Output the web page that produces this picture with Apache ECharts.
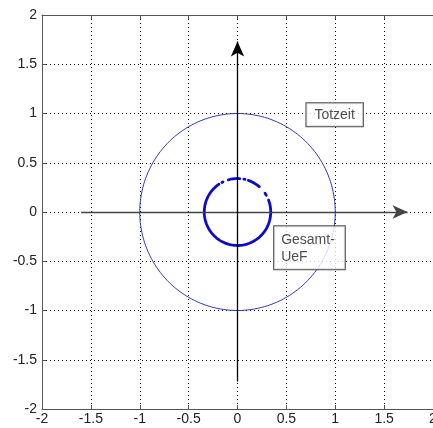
<!DOCTYPE html>
<html>
<head>
<meta charset="utf-8">
<script src="https://cdn.jsdelivr.net/npm/echarts@6/dist/echarts.min.js"></script>
<style>
  html, body { margin: 0; padding: 0; background: #fff; }
  #chart { width: 433px; height: 428px; }
</style>
</head>
<body>
<div id="chart"></div>
<script>
// Axis ticks (both axes share the same range)
const tickValues = [-2, -1.5, -1, -0.5, 0, 0.5, 1, 1.5, 2];
const tickLabels = ['-2', '-1.5', '-1', '-0.5', '0', '0.5', '1', '1.5', '2'];

// Unit circle and the smaller, partly broken circle around the origin
const outerRadius = 1;
const innerRadius = 0.34;
// visible arcs of the inner circle, [start, end] in degrees (counter-clockwise from +x)
const innerArcs = [[153, 382], [30, 34], [49, 71], [77, 80], [86, 107], [116, 119], [124, 150]];

// Coordinate arrows: [x0, y0, x1, y1]
const xArrow = [-1.6, 0, 1.74, 0];
const yArrow = [0, -1.72, 0, 1.73];

// Annotation boxes, anchored at their upper-left corner
const notes = [
  { text: 'Totzeit', x: 0.71, y: 1.1 },
  { text: 'Gesamt-\nUeF', x: 0.38, y: -0.15 }
];

function arcPoints(r, a0, a1) {
  const pts = [];
  const step = 1;
  for (let a = a0; a <= a1 + 1e-9; a += step) {
    const t = a * Math.PI / 180;
    pts.push([r * Math.cos(t), r * Math.sin(t)]);
  }
  return pts;
}

const font = 'Liberation Sans, Arial, sans-serif';
const labelFmt = v => {
  const i = tickValues.findIndex(t => Math.abs(t - v) < 1e-9);
  return i >= 0 ? tickLabels[i] : '';
};

const series = [];

series.push({
  type: 'line',
  data: arcPoints(outerRadius, 0, 360),
  showSymbol: false,
  lineStyle: { color: '#3434c4', width: 1 },
  silent: true,
  z: 3
});

innerArcs.forEach(([a0, a1]) => {
  series.push({
    type: 'line',
    data: arcPoints(innerRadius, a0, a1),
    showSymbol: false,
    lineStyle: { color: '#0a0ad0', width: 2.8, cap: 'round' },
    silent: true,
    z: 3
  });
});

// arrows
[[xArrow, '#444444'], [yArrow, '#000000']].forEach(([a, c]) => {
  series.push({
    type: 'line',
    data: [],
    silent: true,
    markLine: {
      silent: true,
      animation: false,
      symbol: ['none', 'arrow'],
      symbolSize: [10, 15],
      label: { show: false },
      lineStyle: { color: c, width: 1.3, type: 'solid' },
      data: [[{ coord: [a[0], a[1]] }, { coord: [a[2], a[3]] }]]
    },
    z: 4
  });
});

// annotations
notes.forEach(n => {
  const twoLines = n.text.indexOf('\n') >= 0;
  series.push({
    type: 'scatter',
    data: [[n.x, n.y]],
    symbolSize: 1,
    itemStyle: { color: 'rgba(0,0,0,0)' },
    silent: true,
    z: 6,
    label: {
      show: true,
      position: [0, 0],
      align: 'left',
      verticalAlign: 'top',
      formatter: n.text,
      fontFamily: font,
      fontSize: 14,
      lineHeight: twoLines ? 17 : 16,
      color: '#222',
      backgroundColor: '#fff',
      borderColor: '#222',
      borderWidth: 1,
      padding: twoLines ? [5, 10, 4, 7] : [4, 8, 3, 8]
    }
  });
});

const gridLine = { show: true, lineStyle: { color: '#000', width: 1, type: [1, 3] } };

const option = {
  animation: false,
  backgroundColor: '#fff',
  grid: { left: 42, right: 0, top: 15, bottom: 19, containLabel: false, outerBoundsMode: 'none' },
  xAxis: [
    {
      type: 'value', min: -2, max: 2, interval: 0.5,
      axisLine: { onZero: false, lineStyle: { color: '#555', width: 1 } },
      axisTick: { inside: true, length: 4, lineStyle: { color: '#555' } },
      axisLabel: { formatter: labelFmt, fontFamily: font, fontSize: 14, color: '#222', margin: 3, showMaxLabel: true, showMinLabel: true, hideOverlap: false },
      splitLine: gridLine
    },
    {
      type: 'value', min: -2, max: 2, interval: 0.5, position: 'top',
      axisLine: { onZero: false, lineStyle: { color: '#555', width: 1 } },
      axisTick: { inside: true, length: 4, lineStyle: { color: '#555' } },
      axisLabel: { show: false },
      splitLine: { show: false }
    }
  ],
  yAxis: [
    {
      type: 'value', min: -2, max: 2, interval: 0.5,
      axisLine: { show: true, onZero: false, lineStyle: { color: '#555', width: 1 } },
      axisTick: { show: true, inside: true, length: 4, lineStyle: { color: '#555' } },
      axisLabel: { formatter: labelFmt, fontFamily: font, fontSize: 14, color: '#222', margin: 5, showMaxLabel: true, showMinLabel: true, hideOverlap: false },
      splitLine: gridLine
    }
  ],
  series: series
};

const chart = echarts.init(document.getElementById('chart'), null, { renderer: 'canvas' });
chart.setOption(option);
</script>
</body>
</html>
